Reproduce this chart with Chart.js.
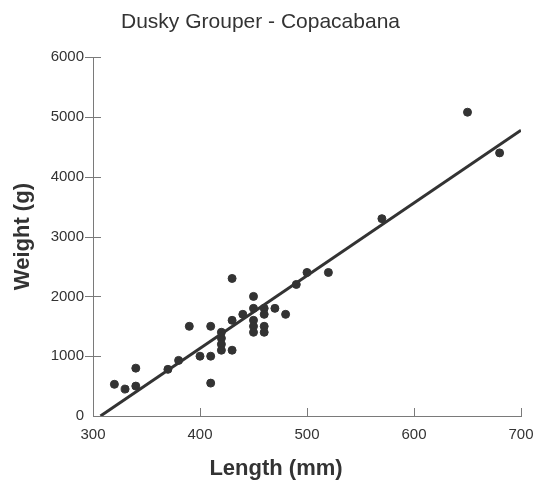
<!DOCTYPE html>
<html>
<head>
<meta charset="utf-8">
<script src="https://cdn.jsdelivr.net/npm/chart.js@4"></script>
<style>
  html, body { margin: 0; padding: 0; background: #fff; }
  #wrap { width: 536px; height: 481px; }
</style>
</head>
<body>
<div id="wrap"><canvas id="fishChart" width="536" height="481"></canvas></div>
<script>
  'use strict'

  // measured fish: length (mm) and weight (g)
  var lengthMm = [320, 330, 340, 340, 370, 380, 390, 400, 410, 410, 410, 420, 420, 420, 420,
                  430, 430, 430, 440, 450, 450, 450, 450, 450, 460, 460, 460, 460, 470, 480,
                  490, 500, 520, 570, 650, 680];
  var weightG  = [530, 450, 500, 800, 780, 930, 1500, 1000, 1000, 550, 1500, 1400, 1300, 1200, 1100,
                  1100, 1600, 2300, 1700, 2000, 1800, 1600, 1500, 1400, 1800, 1700, 1500, 1400, 1800, 1700,
                  2200, 2400, 2400, 3300, 5080, 4400];

  // fitted line
  var trendX = [307, 700];
  var trendY = [0, 4780];

  var xTicks = [300, 400, 500, 600, 700];
  var yTicks = [0, 1000, 2000, 3000, 4000, 5000, 6000];

  var ink = '#333333';
  var axisGrey = '#7a7a7a';
  var fontFamily = '"Liberation Sans", Arial, Helvetica, sans-serif';

  var points = lengthMm.map(function (x, i) { return { x: x, y: weightG[i] }; });
  var trend = trendX.map(function (x, i) { return { x: x, y: trendY[i] }; });

  // tick marks: x ticks point up into the plot, y ticks cross the axis
  var axisMarks = {
    id: 'axisMarks',
    afterDraw: function (chart) {
      var c = chart.ctx, xs = chart.scales.x, ys = chart.scales.y;
      c.save();
      c.strokeStyle = axisGrey;
      c.lineWidth = 1;
      c.beginPath();
      xTicks.forEach(function (v) {
        if (v === xTicks[0]) return;
        var px = Math.round(xs.getPixelForValue(v)) + 0.5;
        c.moveTo(px, ys.bottom);
        c.lineTo(px, ys.bottom - 8);
      });
      yTicks.forEach(function (v) {
        if (v === 0) return;
        var py = Math.round(ys.getPixelForValue(v)) + 0.5;
        c.moveTo(xs.left - 8, py);
        c.lineTo(xs.left + 8, py);
      });
      c.stroke();
      // x axis title, sits left of the plot centre as in the original
      c.fillStyle = ink;
      c.font = 'bold 22px ' + fontFamily;
      c.textAlign = 'center';
      c.textBaseline = 'middle';
      c.fillText('Length (mm)', 276, 469);
      c.restore();
    }
  };

  var plain = function (v) { return String(v); };

  var ctx = document.getElementById('fishChart').getContext('2d');
  var fishChart = new Chart(ctx, {
    type: 'scatter',
    data: {
      datasets: [
        {
          label: 'Fish',
          data: points,
          backgroundColor: ink,
          borderColor: ink,
          pointRadius: 4,
          pointHoverRadius: 4,
          order: 2
        },
        {
          type: 'line',
          label: 'Fit',
          data: trend,
          borderColor: ink,
          borderWidth: 3,
          pointRadius: 0,
          fill: false,
          order: 1
        }
      ]
    },
    options: {
      responsive: false,
      animation: false,
      layout: { padding: { left: 0, right: 15, top: 0, bottom: 0 } },
      plugins: {
        legend: { display: false },
        tooltip: { enabled: false },
        title: {
          display: true,
          text: 'Dusky Grouper - Copacabana',
          color: ink,
          font: { family: fontFamily, size: 21, weight: 'normal' },
          padding: { top: 10, bottom: 22 }
        }
      },
      scales: {
        x: {
          type: 'linear',
          min: 300,
          max: 700,
          afterBuildTicks: function (axis) { axis.ticks = xTicks.map(function (v) { return { value: v }; }); },
          afterFit: function (axis) {
            axis.height = 65;
            axis.paddingLeft = 0;
            axis.paddingRight = 0;
          },
          grid: { display: false, drawTicks: false },
          border: { display: true, color: axisGrey, width: 1 },
          ticks: { color: ink, padding: 10, callback: plain, font: { family: fontFamily, size: 15 } }
        },
        y: {
          type: 'linear',
          min: 0,
          max: 6000,
          afterBuildTicks: function (axis) { axis.ticks = yTicks.map(function (v) { return { value: v }; }); },
          afterFit: function (axis) { axis.width = 93; },
          grid: { display: false, drawTicks: false },
          border: { display: true, color: axisGrey, width: 1 },
          ticks: { color: ink, padding: 9, callback: plain, font: { family: fontFamily, size: 15 } },
          title: {
            display: true,
            text: 'Weight (g)',
            color: ink,
            font: { family: fontFamily, size: 22, weight: 'bold' },
            padding: { top: 10, bottom: 0 }
          }
        }
      }
    },
    plugins: [axisMarks]
  });
</script>
</body>
</html>
